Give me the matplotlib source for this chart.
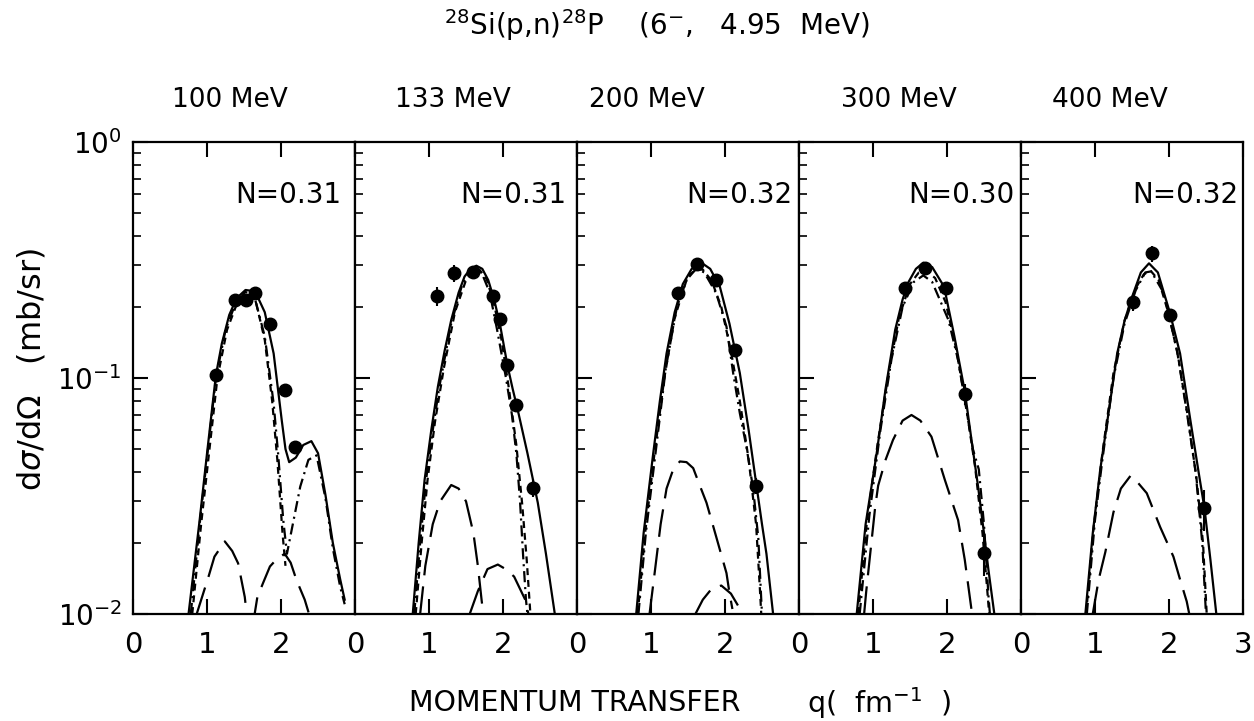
import matplotlib
matplotlib.use("Agg")
import matplotlib.pyplot as plt
import numpy as np
from matplotlib.ticker import NullFormatter

plt.rcParams['font.family'] = ['DejaVu Sans']
plt.rcParams['lines.scale_dashes'] = False

nan = np.nan

energies = ['100 MeV', '133 MeV', '200 MeV', '300 MeV', '400 MeV']
norms = ['N=0.31', 'N=0.31', 'N=0.32', 'N=0.30', 'N=0.32']

# measured points (q, dsigma/dOmega) and relative errors
data_100 = [(1.12, 0.103), (1.38, 0.214), (1.53, 0.214), (1.65, 0.229),
            (1.85, 0.169), (2.05, 0.089), (2.19, 0.051)]
err_100 = [0.04, 0.04, 0.04, 0.04, 0.04, 0.04, 0.04]
data_133 = [(1.11, 0.222), (1.34, 0.278), (1.60, 0.282), (1.86, 0.222),
            (1.96, 0.178), (2.06, 0.1135), (2.18, 0.0769), (2.40, 0.0343)]
err_133 = [0.09, 0.08, 0.04, 0.04, 0.04, 0.05, 0.05, 0.09]
data_200 = [(1.365, 0.229), (1.62, 0.304), (1.88, 0.259), (2.14, 0.132),
            (2.42, 0.0349)]
err_200 = [0.04, 0.04, 0.04, 0.05, 0.08]
data_300 = [(1.43, 0.24), (1.70, 0.292), (1.98, 0.24), (2.24, 0.0855),
            (2.50, 0.0181)]
err_300 = [0.05, 0.04, 0.04, 0.10, 0.20]
data_400 = [(1.51, 0.209), (1.77, 0.337), (2.01, 0.185), (2.48, 0.028)]
err_400 = [0.08, 0.08, 0.05, 0.20]

# calculated curves (q, value)
solid_100 = [(0.75, 0.01), (0.9, 0.025), (1.0, 0.048), (1.12, 0.103),
             (1.2, 0.14), (1.3, 0.185), (1.4, 0.218), (1.52, 0.236),
             (1.6, 0.234), (1.68, 0.222), (1.78, 0.19), (1.9, 0.127),
             (2.01, 0.066), (2.06, 0.05), (2.11, 0.044), (2.2, 0.046),
             (2.3, 0.052), (2.41, 0.054), (2.5, 0.048), (2.6, 0.032),
             (2.7, 0.02), (2.8, 0.014), (2.86, 0.0115)]
dashdot_100 = [(0.78, 0.01), (0.9, 0.024), (1.0, 0.046), (1.12, 0.1),
               (1.25, 0.16), (1.38, 0.205), (1.52, 0.232), (1.65, 0.215),
               (1.78, 0.15), (1.9, 0.078), (1.96, 0.048), (2.03, 0.025),
               (2.08, 0.018), (2.17, 0.025), (2.26, 0.0347), (2.37, 0.045),
               (2.48, 0.047), (2.6, 0.031), (2.7, 0.019), (2.8, 0.013),
               (2.86, 0.011)]
dash_100 = [(0.8, 0.01), (0.92, 0.024), (1.02, 0.046), (1.14, 0.1),
            (1.27, 0.16), (1.4, 0.205), (1.54, 0.228), (1.66, 0.21),
            (1.78, 0.145), (1.88, 0.08), (1.95, 0.045), (2.02, 0.022),
            (2.06, 0.016)]
longdash_100 = [(0.86, 0.01), (1.02, 0.0144), (1.1, 0.0175), (1.24, 0.0203),
                (1.34, 0.0185), (1.42, 0.0164), (1.51, 0.0118), (1.56, 0.0085),
                (1.57, nan),
                (1.62, 0.009), (1.68, 0.0118), (1.76, 0.0136), (1.85, 0.0159),
                (1.95, 0.0172), (2.05, 0.018), (2.13, 0.0165), (2.21, 0.0139),
                (2.32, 0.0115), (2.4, 0.0095)]

solid_133 = [(0.78, 0.01), (0.86, 0.02), (0.94, 0.037), (1.03, 0.06),
             (1.12, 0.092), (1.21, 0.13), (1.3, 0.176), (1.4, 0.23),
             (1.48, 0.269), (1.56, 0.29), (1.64, 0.299), (1.72, 0.29),
             (1.8, 0.26), (1.88, 0.215), (1.96, 0.168), (2.06, 0.113),
             (2.13, 0.09), (2.2, 0.073), (2.33, 0.048), (2.47, 0.0296),
             (2.58, 0.018), (2.7, 0.01)]
dashdot_133 = [(0.8, 0.01), (0.88, 0.02), (0.96, 0.037), (1.05, 0.06),
               (1.14, 0.092), (1.3, 0.17), (1.45, 0.25), (1.55, 0.283),
               (1.63, 0.29), (1.72, 0.275), (1.82, 0.23), (1.92, 0.16),
               (2.04, 0.1), (2.12, 0.07), (2.18, 0.048), (2.23, 0.03),
               (2.27, 0.018), (2.31, 0.0115), (2.33, 0.01)]
dash_133 = [(0.82, 0.01), (0.9, 0.02), (0.98, 0.037), (1.08, 0.065),
            (1.2, 0.11), (1.35, 0.19), (1.5, 0.26), (1.6, 0.285),
            (1.68, 0.288), (1.78, 0.262), (1.88, 0.205), (1.98, 0.145),
            (2.08, 0.09), (2.18, 0.052), (2.26, 0.029), (2.32, 0.017),
            (2.37, 0.01)]
longdash_133 = [(0.88, 0.01), (0.95, 0.016), (1.05, 0.024), (1.15, 0.03),
                (1.3, 0.0352), (1.4, 0.034), (1.5, 0.03), (1.6, 0.022),
                (1.66, 0.016), (1.71, 0.0115), (1.75, 0.009),
                (1.76, nan),
                (1.55, 0.01), (1.66, 0.0125), (1.79, 0.0155), (1.93, 0.0162),
                (2.05, 0.0154), (2.15, 0.0144), (2.3, 0.0115), (2.35, 0.0098)]

solid_200 = [(0.8, 0.01), (0.9, 0.022), (1.03, 0.048), (1.12, 0.08),
             (1.21, 0.127), (1.32, 0.19), (1.43, 0.25), (1.55, 0.29),
             (1.68, 0.308), (1.8, 0.29), (1.93, 0.244), (2.06, 0.17),
             (2.2, 0.105), (2.32, 0.06), (2.42, 0.036), (2.5, 0.024),
             (2.56, 0.018), (2.65, 0.01)]
dashdot_200 = [(0.83, 0.01), (0.93, 0.022), (1.05, 0.045), (1.2, 0.11),
               (1.35, 0.2), (1.5, 0.27), (1.62, 0.29), (1.72, 0.28),
               (1.88, 0.229), (2.02, 0.165), (2.11, 0.105), (2.2, 0.071),
               (2.29, 0.051), (2.38, 0.034), (2.45, 0.021), (2.49, 0.0115),
               (2.5, 0.01)]
dash_200 = [(0.82, 0.01), (0.92, 0.022), (1.04, 0.046), (1.18, 0.1),
            (1.32, 0.18), (1.48, 0.26), (1.6, 0.288), (1.7, 0.288),
            (1.82, 0.258), (1.95, 0.2), (2.08, 0.13), (2.2, 0.08),
            (2.32, 0.045), (2.42, 0.024), (2.47, 0.013), (2.49, 0.01)]
longdash_200 = [(0.98, 0.01), (1.05, 0.015), (1.13, 0.024), (1.21, 0.034),
                (1.3, 0.041), (1.39, 0.0443), (1.48, 0.044), (1.57, 0.0415),
                (1.66, 0.035), (1.75, 0.0296), (1.88, 0.0213), (2.02, 0.0149),
                (2.06, 0.0123), (2.1, 0.0105),
                (2.11, nan),
                (1.6, 0.01), (1.7, 0.0115), (1.82, 0.0128), (1.95, 0.0132),
                (2.08, 0.0122), (2.18, 0.0108), (2.24, 0.0098)]

solid_300 = [(0.78, 0.01), (0.9, 0.024), (1.05, 0.048), (1.17, 0.09),
             (1.3, 0.16), (1.4, 0.215), (1.48, 0.255), (1.58, 0.29),
             (1.68, 0.308), (1.8, 0.295), (1.96, 0.244), (2.1, 0.15),
             (2.24, 0.088), (2.33, 0.055), (2.42, 0.0347), (2.5, 0.022),
             (2.56, 0.0154), (2.64, 0.01)]
dashdot_300 = [(0.82, 0.01), (0.95, 0.026), (1.1, 0.06), (1.25, 0.12),
               (1.4, 0.2), (1.55, 0.255), (1.68, 0.272), (1.8, 0.255),
               (2.02, 0.176), (2.15, 0.119), (2.24, 0.081), (2.35, 0.05),
               (2.43, 0.041), (2.5, 0.024), (2.56, 0.012), (2.58, 0.01)]
dash_300 = [(0.8, 0.01), (0.92, 0.025), (1.06, 0.052), (1.2, 0.1),
            (1.35, 0.18), (1.5, 0.25), (1.62, 0.28), (1.72, 0.285),
            (1.84, 0.265), (1.98, 0.21), (2.12, 0.135), (2.26, 0.075),
            (2.38, 0.042), (2.48, 0.022), (2.55, 0.012), (2.57, 0.01)]
longdash_300 = [(0.88, 0.01), (0.91, 0.0126), (1.03, 0.0285), (1.07, 0.035),
                (1.17, 0.045), (1.27, 0.0546), (1.4, 0.066), (1.52, 0.0697),
                (1.64, 0.066), (1.79, 0.0564), (1.97, 0.0371), (2.15, 0.025),
                (2.24, 0.017), (2.33, 0.0105), (2.35, 0.0097)]

solid_400 = [(0.87, 0.01), (0.97, 0.022), (1.07, 0.0407), (1.18, 0.07),
             (1.3, 0.127), (1.4, 0.175), (1.5, 0.22), (1.62, 0.28),
             (1.73, 0.306), (1.85, 0.28), (2.01, 0.19), (2.15, 0.127),
             (2.29, 0.066), (2.4, 0.04), (2.48, 0.028), (2.56, 0.017),
             (2.64, 0.01)]
dashdot_400 = [(0.89, 0.01), (1.0, 0.025), (1.1, 0.045), (1.25, 0.1),
               (1.4, 0.17), (1.55, 0.235), (1.68, 0.28), (1.76, 0.283),
               (1.93, 0.229), (2.11, 0.13), (2.24, 0.072), (2.36, 0.04),
               (2.45, 0.02), (2.5, 0.01)]
dash_400 = [(0.88, 0.01), (0.98, 0.023), (1.1, 0.048), (1.25, 0.105),
            (1.4, 0.175), (1.55, 0.24), (1.66, 0.275), (1.75, 0.285),
            (1.86, 0.26), (2.0, 0.185), (2.12, 0.125), (2.25, 0.07),
            (2.37, 0.038), (2.46, 0.02), (2.51, 0.01)]
longdash_400 = [(0.97, 0.01), (1.05, 0.014), (1.14, 0.0183), (1.25, 0.027),
                (1.35, 0.034), (1.48, 0.0385), (1.58, 0.036), (1.7, 0.0325),
                (1.88, 0.0234), (2.06, 0.0175), (2.15, 0.014), (2.24, 0.0113),
                (2.28, 0.0098)]

panels = [
    (data_100, err_100, solid_100, dashdot_100, dash_100, longdash_100),
    (data_133, err_133, solid_133, dashdot_133, dash_133, longdash_133),
    (data_200, err_200, solid_200, dashdot_200, dash_200, longdash_200),
    (data_300, err_300, solid_300, dashdot_300, dash_300, longdash_300),
    (data_400, err_400, solid_400, dashdot_400, dash_400, longdash_400),
]

norm_x = [0.94, 0.95, 0.97, 0.97, 0.98]
energy_x = [230, 453, 647, 899, 1110]

fig, axes = plt.subplots(1, 5, figsize=(12.54, 7.21), dpi=100, sharey=True)
fig.subplots_adjust(left=0.1061, right=0.9912, bottom=0.1484, top=0.8031,
                    wspace=0)

for i, ax in enumerate(axes):
    data, err, solid, dd, ds, ld = panels[i]
    ax.set_yscale('log')
    ax.set_ylim(0.01, 1.0)
    ax.set_xlim(0, 3)

    for curve, ls in [(solid, '-'),
                      (dd, (0, (8, 3.5, 1.5, 3.5))),
                      (ds, (0, (5, 3.5))),
                      (ld, (0, (20, 8)))]:
        c = np.array(curve, dtype=float)
        ax.plot(c[:, 0], c[:, 1], color='k', lw=1.6, linestyle=ls)

    d = np.array(data)
    ax.errorbar(d[:, 0], d[:, 1], yerr=d[:, 1] * np.array(err), fmt='o',
                color='k', ms=9, elinewidth=1.5, capsize=0)

    ax.set_xticks([0, 1, 2, 3])
    ax.set_xticklabels(['0', '1', '2', '3' if i == 4 else ''])
    ax.tick_params(axis='x', which='major', direction='in', top=True,
                   length=11, width=1.5, labelsize=21, pad=12)
    ax.tick_params(axis='y', which='major', direction='in', right=False,
                   length=11, width=1.5, labelsize=20, pad=8)
    ax.tick_params(axis='y', which='minor', direction='in', right=False,
                   length=6, width=1.2)
    ax.yaxis.set_minor_formatter(NullFormatter())
    for sp in ax.spines.values():
        sp.set_linewidth(1.6)

    ax.text(norm_x[i], 0.888, norms[i], transform=ax.transAxes,
            ha='right', va='center', fontsize=20)
    fig.text(energy_x[i] / 1254, 0.861, energies[i], ha='center',
             va='center', fontsize=19)

fig.text(0.524, 0.965, r'$^{28}$Si(p,n)$^{28}$P    (6$^{-}$,   4.95  MeV)',
         ha='center', va='center', fontsize=20)
fig.text(0.0255, 0.487, r'd$\sigma$/d$\Omega$   (mb/sr)', rotation=90,
         ha='center', va='center', fontsize=23)
fig.text(575 / 1254, 0.025, 'MOMENTUM TRANSFER', ha='center', va='center',
         fontsize=20.5)
fig.text(879 / 1254, 0.025, r'q(  fm$^{-1}$  )', ha='center', va='center',
         fontsize=20.5)

fig.savefig('out.png', dpi=100)
